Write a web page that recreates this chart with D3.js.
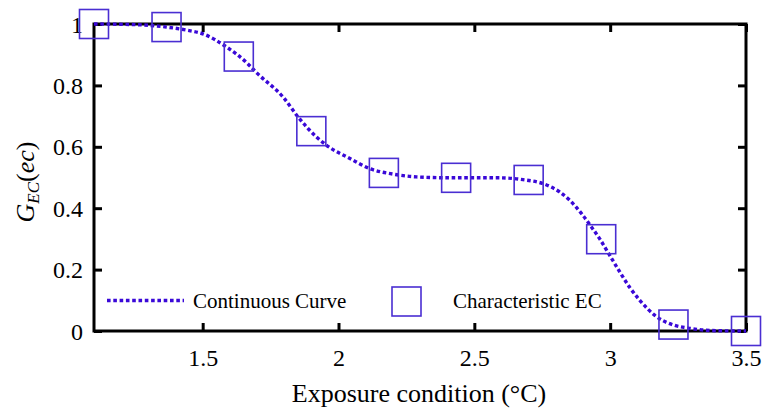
<!DOCTYPE html>
<html>
<head>
<meta charset="utf-8">
<script src="https://cdn.jsdelivr.net/npm/d3@7"></script>
<style>
  html, body { margin: 0; padding: 0; background: #fff; }
  svg { display: block; }
</style>
</head>
<body>
<svg id="chart" width="763" height="408"></svg>
<script>
// Characteristic EC points (squares)
const ecX = [1.1, 1.367, 1.633, 1.9, 2.167, 2.433, 2.7, 2.967, 3.233, 3.5];
const ecY = [1.0, 0.99, 0.894, 0.651, 0.515, 0.499, 0.492, 0.299, 0.021, 0.0];

// Continuous curve samples
const curveX = [1.1, 1.25, 1.367, 1.441, 1.501, 1.588, 1.662, 1.70, 1.796, 1.853, 1.919, 1.956, 2.042, 2.115, 2.201, 2.287, 2.41, 2.593, 2.679, 2.753, 2.814, 2.851, 2.894, 2.931, 2.961, 2.998, 3.035, 3.072, 3.108, 3.17, 3.231, 3.292, 3.391, 3.5];
const curveY = [1.0, 0.998, 0.99, 0.98, 0.968, 0.925, 0.874, 0.84, 0.762, 0.695, 0.632, 0.605, 0.562, 0.529, 0.511, 0.502, 0.499, 0.499, 0.493, 0.48, 0.453, 0.426, 0.383, 0.339, 0.301, 0.247, 0.193, 0.142, 0.101, 0.047, 0.02, 0.0087, 0.001, 0.0];

const xTicks = [1.5, 2, 2.5, 3, 3.5];
const yTicks = [0, 0.2, 0.4, 0.6, 0.8, 1];
const legendLabels = ["Continuous Curve", "Characteristic EC"];

const m = { left: 94, right: 746, top: 24, bottom: 331 };
const svg = d3.select("#chart");
const serif = "Liberation Serif";

const x = d3.scaleLinear().domain([1.1, 3.5]).range([m.left, m.right]);
const y = d3.scaleLinear().domain([0, 1]).range([m.bottom, m.top]);

const curveColor = "#3a08d8";
const sqColor = "#4a2ed2";
const tickLen = 8;

// Frame
svg.append("rect")
  .attr("x", m.left).attr("y", m.top)
  .attr("width", m.right - m.left).attr("height", m.bottom - m.top)
  .attr("fill", "none").attr("stroke", "#000").attr("stroke-width", 3);

// Axes (ticks inward)
const gxb = svg.append("g").attr("transform", `translate(0,${m.bottom})`)
  .call(d3.axisBottom(x).tickValues(xTicks).tickSize(-tickLen).tickPadding(14).tickFormat(d3.format("")));
const gxt = svg.append("g").attr("transform", `translate(0,${m.top})`)
  .call(d3.axisTop(x).tickValues(xTicks).tickSize(-tickLen).tickFormat(""));
const gyl = svg.append("g").attr("transform", `translate(${m.left},0)`)
  .call(d3.axisLeft(y).tickValues(yTicks).tickSize(-tickLen).tickPadding(11).tickFormat(d3.format("")));
const gyr = svg.append("g").attr("transform", `translate(${m.right},0)`)
  .call(d3.axisRight(y).tickValues(yTicks).tickSize(-tickLen).tickFormat(""));

[gxb, gxt, gyl, gyr].forEach(g => {
  g.attr("font-family", serif);
  g.select(".domain").remove();
  g.selectAll(".tick line").attr("stroke", "#000").attr("stroke-width", 3);
  g.selectAll(".tick text").attr("font-family", serif)
    .attr("font-size", 24).attr("fill", "#000");
});
gxb.selectAll(".tick text").attr("dy", "0.71em").attr("y", 18);
gyl.selectAll(".tick text").attr("dy", "0.34em");

// Curve
const pts = curveX.map((v, i) => [v, curveY[i]]);
const line = d3.line().x(d => x(d[0])).y(d => y(d[1])).curve(d3.curveMonotoneX);
svg.append("path").datum(pts)
  .attr("d", line)
  .attr("fill", "none")
  .attr("stroke", curveColor)
  .attr("stroke-width", 3.4)
  .attr("stroke-dasharray", "3.6,2.7");

// Squares
const sq = 29;
svg.append("g").selectAll("rect").data(ecX.map((v, i) => [v, ecY[i]]))
  .join("rect")
  .attr("x", d => x(d[0]) - sq / 2)
  .attr("y", d => y(d[1]) - sq / 2)
  .attr("width", sq).attr("height", sq)
  .attr("fill", "none").attr("stroke", sqColor).attr("stroke-width", 1.6);

// Legend
const lg = svg.append("g");
lg.append("line").attr("x1", 107).attr("x2", 184).attr("y1", 300.5).attr("y2", 300.5)
  .attr("stroke", curveColor).attr("stroke-width", 3.4).attr("stroke-dasharray", "3.6,2.7");
lg.append("text").attr("x", 193).attr("y", 308).attr("font-size", 21).attr("font-family", serif).text(legendLabels[0]);
lg.append("rect").attr("x", 392).attr("y", 287).attr("width", sq).attr("height", sq)
  .attr("fill", "none").attr("stroke", sqColor).attr("stroke-width", 1.6);
lg.append("text").attr("x", 453).attr("y", 308).attr("font-size", 21).attr("font-family", serif).text(legendLabels[1]);

// X label
svg.append("text").attr("x", (m.left + m.right) / 2 - 1).attr("y", 402)
  .attr("text-anchor", "middle").attr("font-size", 26).attr("font-family", serif)
  .text("Exposure condition (°C)");

// Y label
const yl = svg.append("text")
  .attr("transform", `translate(34,${182}) rotate(-90)`)
  .attr("text-anchor", "middle").attr("font-size", 26).attr("font-family", serif);
yl.append("tspan").attr("font-style", "italic").text("G");
yl.append("tspan").attr("font-style", "italic").attr("font-size", 17).attr("dy", 5).text("EC");
yl.append("tspan").attr("dy", -5).text("(");
yl.append("tspan").attr("font-style", "italic").text("ec");
yl.append("tspan").text(")");
</script>
</body>
</html>
